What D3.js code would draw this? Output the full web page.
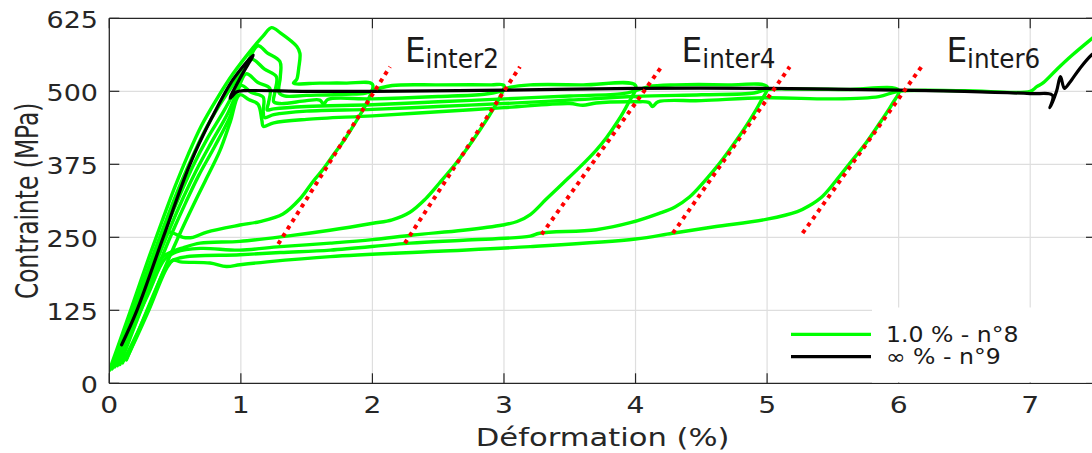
<!DOCTYPE html>
<html><head><meta charset="utf-8">
<script src="https://cdn.jsdelivr.net/npm/d3@7"></script>
<style>html,body{margin:0;padding:0;background:#fff;}svg{display:block;}</style>
</head><body><svg id="c" width="1092" height="453"></svg>
<script>
// ---------- data ----------
const xTicks = [0,1,2,3,4,5,6,7];
const yTicks = [0,125,250,375,500,625];
const xLabel = "Déformation (%)";
const yLabel = "Contrainte (MPa)";
const seriesNames = ["1.0 % - n°8", "∞ % - n°9"];

// specimen n°8 (green): loading / unloading cycles  [strain %, stress MPa]
const cycle1 = [[0.0,22],[0.1,85],[0.2,150],[0.3,215],[0.4,277],[0.5,337],[0.6,392],[0.7,441],[0.82,488],[0.94,530],[1.09,574],[1.17,595],[1.234,609],[1.3,600],[1.424,577],[1.449,565],[1.44,540],[1.424,520],[1.40,514],[1.6,514],[1.8,514],[2.0,512],
  [1.96,482],[1.88,450],[1.79,418],[1.70,390],[1.62,365],[1.55,346],[1.45,316],[1.32,290],[1.145,277],[0.993,271],[0.742,259],[0.636,250],[0.56,250],[0.484,257],[0.43,258],[0.38,228],[0.25,150],[0.12,70],[0.02,25]];
const cycle2 = [[0.02,25],[0.12,87],[0.22,150],[0.32,212],[0.42,272],[0.52,330],[0.62,382],[0.72,430],[0.84,477],[0.96,518],[1.05,550],[1.13,578],[1.2,566],[1.297,551],[1.30,525],[1.29,498],[1.33,492],[1.5,493],[1.8,495],[1.95,497],[2.05,505],[2.15,510],[2.5,511],[2.9,511],[3.0,510],
  [2.95,482],[2.87,452],[2.76,415],[2.64,378],[2.51,343],[2.40,315],[2.285,293],[2.15,280],[2.004,274],[1.677,262],[1.35,252],[0.993,243],[0.69,240],[0.56,232],[0.474,225],[0.40,215],[0.3,165],[0.18,100],[0.06,35]];
const cycle3 = [[0.04,28],[0.14,90],[0.24,152],[0.34,212],[0.44,270],[0.54,324],[0.64,374],[0.75,421],[0.87,466],[0.98,512],[1.08,555],[1.18,538],[1.27,525],[1.26,500],[1.25,482],[1.3,479],[1.5,484],[1.6,485],[1.63,478],[1.66,486],[2.0,487],[2.5,491],[2.85,495],[2.97,500],[3.05,507],[3.2,511],[3.6,511],[4.0,510],
  [3.94,478],[3.86,447],[3.78,421],[3.70,399],[3.58,371],[3.45,343],[3.32,315],[3.2,289],[3.1,277],[2.99,271],[2.69,262],[2.31,254],[2.0,246],[1.68,240],[1.3,234],[0.993,228],[0.69,231],[0.51,225],[0.42,212],[0.3,155],[0.18,95],[0.07,35]];
const cycle4 = [[0.06,30],[0.16,90],[0.26,150],[0.36,209],[0.46,265],[0.56,317],[0.66,364],[0.77,410],[0.9,462],[0.97,498],[1.04,530],[1.13,515],[1.22,505],[1.21,480],[1.2,468],[1.25,470],[1.5,474],[2.0,477],[2.5,482],[3.0,487],[3.5,492],[3.9,496],[4.0,501],[4.1,508],[4.3,511],[4.7,511],[5.0,508],
  [4.95,482],[4.87,451],[4.76,414],[4.64,377],[4.52,345],[4.41,319],[4.3,302],[4.18,291],[3.96,275],[3.7,263],[3.27,257],[3.2,252],[2.69,245],[2.29,240],[1.68,228],[1.3,224],[0.993,220],[0.54,215],[0.45,205],[0.32,140],[0.2,80],[0.1,35]];
const cycle5 = [[0.08,32],[0.18,90],[0.28,148],[0.38,205],[0.48,259],[0.58,309],[0.68,356],[0.8,405],[0.92,458],[1.0,510],[1.08,498],[1.17,490],[1.17,465],[1.18,455],[1.25,460],[1.5,466],[2.0,469],[2.5,474],[3.0,479],[3.5,485],[4.0,491],[4.5,494],[4.9,497],[5.0,503],[5.2,504],[5.6,503],[6.0,502],
  [5.95,478],[5.86,447],[5.75,411],[5.63,377],[5.52,346],[5.42,320],[5.32,304],[5.23,294],[5.0,281],[4.6,268],[4.28,257],[4.0,247],[3.2,234],[2.5,226],[1.68,217],[1.2,208],[0.993,203],[0.89,200],[0.765,206],[0.54,208],[0.487,211],[0.436,197],[0.3,125],[0.2,75],[0.13,42]];
const cycle6 = [[0.13,40],[0.23,94],[0.33,149],[0.43,202],[0.53,253],[0.63,301],[0.73,347],[0.84,398],[0.92,448],[0.99,494],[1.06,486],[1.13,478],[1.16,450],[1.17,440],[1.25,446],[1.5,452],[2.0,458],[2.5,465],[3.0,472],[3.5,479],[3.6,476],[3.7,480],[4.0,482],[4.1,481],[4.13,474],[4.17,482],[4.5,484],[5.0,489],[5.5,487],[5.85,491],[6.0,500],[6.5,501],[7.0,500],[7.05,508],[7.1,515],[7.2,537],[7.32,562],[7.5,596]];
// specimen n°9 (black)
const monotonic9 = [[0.094,66],[0.21,125],[0.41,250],[0.613,375],[0.78,455],[0.94,520],[1.094,562],[1.0,525],[0.918,488],[0.968,499],[1.02,501],[1.5,500],[2.0,500],[3.0,502],[4.0,505],[5.0,505],[6.0,502],[6.5,500],[7.0,496],[7.17,493],[7.15,472],[7.2,500],[7.23,525],[7.26,505],[7.3,515],[7.38,540],[7.47,563],[7.5,568]];

// unloading moduli (red dotted) : start / end points
const modX0 = [1.284, 2.247, 3.286, 4.284, 5.27];
const modY0 = [238.5, 240, 255, 257, 257];
const modX1 = [2.133, 3.121, 4.197, 5.172, 6.173];
const modY1 = [542, 542, 542, 542, 542];
// annotations
const annSub = ["inter2", "inter4", "inter6"];
const annX = [2.247, 4.35, 6.363];
const annY = [550, 550, 550];

// ---------- layout ----------
const L = 109.3, R = 1096, T = 18.3, B = 383.3;
const svg = d3.select("#c");
const x = d3.scaleLinear().domain([0,7.5]).range([L,R]);
const y = d3.scaleLinear().domain([0,625]).range([B,T]);
const SX = 1.2; // horizontal glyph stretch
const axisCol = "#262626";
const font = "DejaVu Sans, Verdana, sans-serif";

function stretch(sel, sx, sy) {
  sel.each(function(){
    const n = d3.select(this);
    const px = +n.attr("x"), py = +n.attr("y");
    n.attr("transform", `translate(${px},${py}) scale(${sx},${sy||1}) translate(${-px},${-py})`);
  });
}

// grid
const grid = svg.append("g");
grid.selectAll("line.v").data(xTicks.filter(d=>d>0)).join("line")
  .attr("x1", d=>x(d)).attr("x2", d=>x(d)).attr("y1", T).attr("y2", B)
  .attr("stroke", "#dedede").attr("stroke-width", 1.2);
grid.selectAll("line.h").data(yTicks.filter(d=>d>0 && d<625)).join("line")
  .attr("x1", L).attr("x2", R).attr("y1", d=>y(d)).attr("y2", d=>y(d))
  .attr("stroke", "#dedede").attr("stroke-width", 1.2);

// clip
svg.append("clipPath").attr("id","clip").append("rect")
  .attr("x", L).attr("y", T).attr("width", R-L).attr("height", B-T);

const line = d3.line().x(d=>x(d[0])).y(d=>y(d[1])).curve(d3.curveCatmullRom.alpha(0.5));
const plot = svg.append("g").attr("clip-path","url(#clip)");
[cycle1,cycle2,cycle3,cycle4,cycle5,cycle6].forEach(c => {
  plot.append("path").attr("d", line(c)).attr("fill","none")
    .attr("stroke","#00ff00").attr("stroke-width",3.4).attr("stroke-linejoin","round").attr("stroke-linecap","round");
});
plot.append("path").attr("d", line(monotonic9)).attr("fill","none")
  .attr("stroke","#000").attr("stroke-width",3.2).attr("stroke-linejoin","round").attr("stroke-linecap","round");

// moduli
plot.selectAll("line.mod").data(modX0.map((d,i)=>i)).join("line")
  .attr("x1", i=>x(modX0[i])).attr("y1", i=>y(modY0[i]))
  .attr("x2", i=>x(modX1[i])).attr("y2", i=>y(modY1[i]))
  .attr("stroke","#ff0000").attr("stroke-width",4).attr("stroke-dasharray","4,4.7");

// axes box + ticks
const ax = svg.append("g");
ax.append("line").attr("x1",L).attr("x2",R).attr("y1",B).attr("y2",B).attr("stroke",axisCol).attr("stroke-width",1.3);
ax.append("line").attr("x1",L).attr("x2",R).attr("y1",T).attr("y2",T).attr("stroke",axisCol).attr("stroke-width",1.3);
ax.append("line").attr("x1",L).attr("x2",L).attr("y1",T).attr("y2",B).attr("stroke",axisCol).attr("stroke-width",1.3);
ax.append("line").attr("x1",R).attr("x2",R).attr("y1",T).attr("y2",B).attr("stroke",axisCol).attr("stroke-width",1.3);
xTicks.forEach(t => {
  ax.append("line").attr("x1",x(t)).attr("x2",x(t)).attr("y1",B).attr("y2",B-10).attr("stroke",axisCol).attr("stroke-width",1.2);
  ax.append("line").attr("x1",x(t)).attr("x2",x(t)).attr("y1",T).attr("y2",T+10).attr("stroke",axisCol).attr("stroke-width",1.2);
});
yTicks.forEach(t => {
  ax.append("line").attr("x1",L).attr("x2",L+10).attr("y1",y(t)).attr("y2",y(t)).attr("stroke",axisCol).attr("stroke-width",1.2);
  ax.append("line").attr("x1",R).attr("x2",R-10).attr("y1",y(t)).attr("y2",y(t)).attr("stroke",axisCol).attr("stroke-width",1.2);
});
const xt = ax.selectAll("text.xt").data(xTicks).join("text")
  .attr("x", d=>x(d)).attr("y", 413).attr("text-anchor","middle")
  .attr("font-family",font).attr("font-size",23.5).attr("fill",axisCol).text(d=>d);
stretch(xt, SX);
const yt = ax.selectAll("text.yt").data(yTicks).join("text")
  .attr("x", 98).attr("y", d=>y(d)+9.5).attr("text-anchor","end")
  .attr("font-family",font).attr("font-size",22.5).attr("fill",axisCol).text(d=>d);
stretch(yt, SX);
const xl = ax.append("text").attr("x",(L+R)/2).attr("y",446.5).attr("text-anchor","middle")
  .attr("font-family",font).attr("font-size",25.5).attr("fill",axisCol).text(xLabel);
stretch(xl, SX);
ax.append("g").attr("transform",`translate(37.5,${(T+B)/2}) rotate(-90)`)
  .append("text").attr("x",0).attr("y",0).attr("text-anchor","middle")
  .attr("font-family","DejaVu Sans Condensed, DejaVu Sans, sans-serif").attr("font-size",26)
  .attr("fill",axisCol).attr("transform","scale(1,1.2)").text(yLabel);

// annotations
annSub.forEach((s,i) => {
  const px = x(annX[i]), py = y(annY[i]);
  const t = svg.append("text").attr("x",px).attr("y",py)
    .attr("font-family",font).attr("fill","#1a1a1a");
  t.append("tspan").attr("font-size",34.5).text("E");
  t.append("tspan").attr("font-size",26).attr("dy",6.3).text(s);
  stretch(t, 0.95);
});

// legend
svg.append("rect").attr("x",872).attr("y",307.5).attr("width",R-872).attr("height",B-307.5-0.7).attr("fill","#fff");
const legCol = ["#00ff00","#000"];
const legY = [334.3, 356.7];
seriesNames.forEach((n,i) => {
  svg.append("line").attr("x1",791).attr("x2",871).attr("y1",legY[i]).attr("y2",legY[i])
    .attr("stroke",legCol[i]).attr("stroke-width",3.3);
  const t = svg.append("text").attr("x",886).attr("y",legY[i]+7.5)
    .attr("font-family",font).attr("font-size",20.5).attr("fill","#1a1a1a").text(n);
  stretch(t, 1.15);
});
</script></body></html>
